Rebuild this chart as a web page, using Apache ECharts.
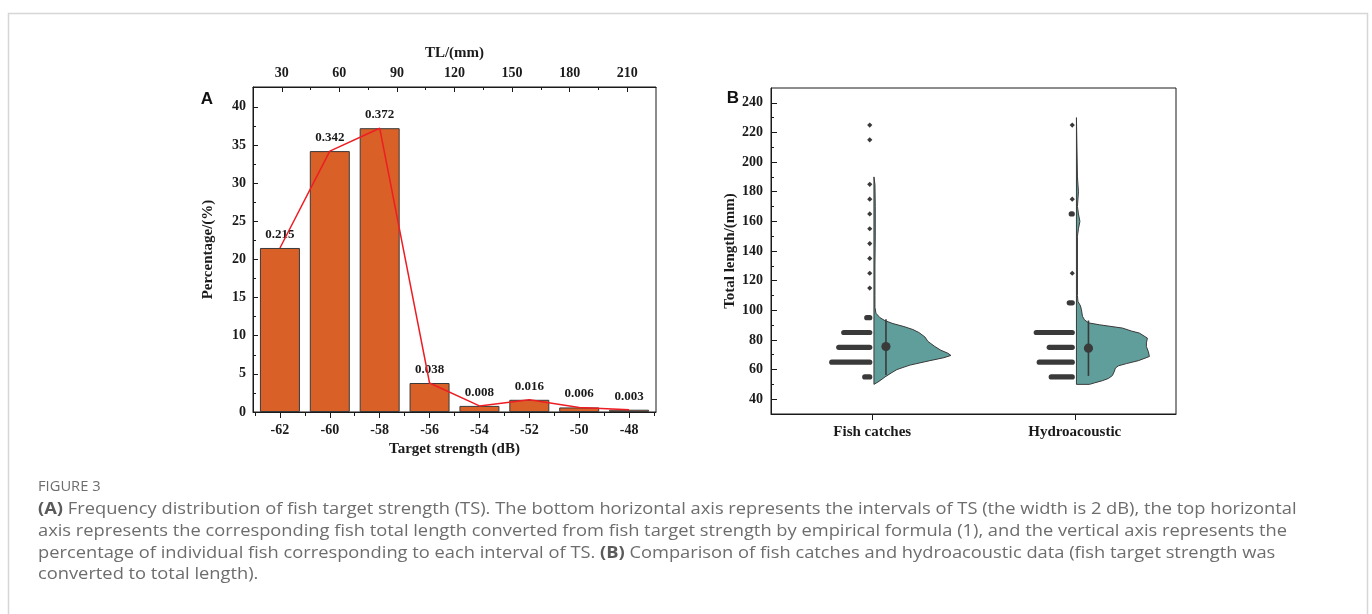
<!DOCTYPE html>
<html>
<head>
<meta charset="utf-8">
<script src="https://cdn.jsdelivr.net/npm/echarts@6/dist/echarts.min.js"></script>
<style>
html,body{margin:0;padding:0;background:#fff;}
#chart{width:1372px;height:614px;}
</style>
</head>
<body>
<div id="chart"></div>
<script>
// ---------- Panel A data ----------
const tsBins = [-62, -60, -58, -56, -54, -52, -50, -48];
const percentages = [21.5, 34.2, 37.2, 3.8, 0.8, 1.6, 0.6, 0.3];
const tsTicks = [-62, -60, -58, -56, -54, -52, -50, -48];
const tsMinorTicks = [-63, -61, -59, -57, -55, -53, -51, -49, -47];
const tlTicks = [30, 60, 90, 120, 150, 180, 210];
const tlMinorTicks = [45, 75, 105, 135, 165, 195];
const pctTicks = [0, 5, 10, 15, 20, 25, 30, 35, 40];
const pctMinorTicks = [2.5, 7.5, 12.5, 17.5, 22.5, 27.5, 32.5, 37.5];

// ---------- Panel B data ----------
const groupNames = ['Fish catches', 'Hydroacoustic'];
const groupPos = [1, 2];
const lenTicks = [40, 60, 80, 100, 120, 140, 160, 180, 200, 220, 240];
const lenMinorTicks = [50, 70, 90, 110, 130, 150, 170, 190, 210, 230];

// half-violin density profiles (relative density)
const violinYCatch = [50, 52, 55, 58, 60, 63, 66, 68, 69.5, 71, 73, 75.5, 77.5, 79, 82, 85, 87, 89, 91, 93, 95, 98, 102, 110, 130, 150, 170, 185, 190];
const violinDensCatch = [0, 0.065, 0.143, 0.234, 0.299, 0.468, 0.727, 0.909, 1, 0.961, 0.87, 0.792, 0.74, 0.701, 0.662, 0.584, 0.506, 0.39, 0.247, 0.143, 0.078, 0.026, 0.013, 0.013, 0.013, 0.017, 0.017, 0.013, 0];
const violinYHydro = [50, 51, 52.5, 54, 56, 59, 61, 62.5, 64, 66, 68.8, 72, 75.5, 78, 81.2, 84.6, 86, 88, 90.2, 91.5, 93.6, 96, 100.3, 103, 106, 110, 150, 155, 160, 165, 170, 180, 190, 230];
const violinDensHydro = [0.169, 0.234, 0.338, 0.416, 0.468, 0.494, 0.506, 0.545, 0.649, 0.805, 0.948, 0.935, 0.909, 0.909, 0.922, 0.818, 0.714, 0.597, 0.299, 0.156, 0.104, 0.078, 0.065, 0.052, 0.019, 0.013, 0.013, 0.026, 0.045, 0.026, 0.013, 0.026, 0.013, 0];

// stacked data points (length bin, number of points)
const dotBinsCatch = [55, 65, 75, 85, 95, 115, 125, 135, 145, 155, 165, 175, 185, 215, 225];
const dotCountsCatch = [6, 39, 32, 27, 4, 1, 1, 1, 1, 1, 1, 1, 1, 1, 1];
const dotBinsHydro = [55, 65, 75, 85, 105, 125, 165, 175, 225];
const dotCountsHydro = [22, 34, 24, 37, 4, 1, 2, 1, 1];

// mean and whisker (mean, low, high)
const meanLen = [75.5, 74.4];
const whiskerLow = [56.4, 55.7];
const whiskerHigh = [94, 93.1];

// ---------- build ----------
const SERIF = 'Liberation Serif, Times New Roman, serif';
const DARK = '#1a1a1a';
const CAP_FONT = '"Open Sans", Lato, sans-serif';
const CAP_SCALE = 1.143;
const lblStyle = {fontFamily: SERIF, fontWeight: 'bold', fontSize: 14, color: DARK};
const nameStyle = {fontFamily: SERIF, fontWeight: 'bold', fontSize: 15, color: DARK};
const axLine = {show: true, lineStyle: {color: DARK, width: 1}};

const violinY = [violinYCatch, violinYHydro];
const violinDens = [violinDensCatch, violinDensHydro];
const dotData = [];
dotBinsCatch.forEach((b, i) => dotData.push([0, b, dotCountsCatch[i]]));
dotBinsHydro.forEach((b, i) => dotData.push([1, b, dotCountsHydro[i]]));
const meanData = groupPos.map((p, i) => [i, meanLen[i], whiskerLow[i], whiskerHigh[i]]);

function basePx(api, g) {
  return api.coord([groupPos[g], 100])[0] + 1.7;
}

const VIOLIN_MAX = 0.38; // axis units at relative density 1

function capLine(y, text) {
  return {type: 'text', x: 38, y: y, scaleX: CAP_SCALE, scaleY: 1,
    style: {text: text, font: '16px ' + CAP_FONT, fill: '#6d6d6d', verticalAlign: 'middle',
      rich: {b: {fontWeight: 'bold', fontSize: 16, fontFamily: CAP_FONT, fill: '#5a5a5a'}}}};
}

const chart = echarts.init(document.getElementById('chart'), null, {renderer: 'canvas'});
const option = {
  animation: false,
  backgroundColor: '#fff',
  grid: [
    {left: 253, top: 87, width: 403, height: 325, show: true, borderColor: DARK, borderWidth: 1, backgroundColor: 'transparent'},
    {left: 771, top: 88, width: 405, height: 326, show: true, borderColor: DARK, borderWidth: 1, backgroundColor: 'transparent'}
  ],
  xAxis: [
    {type: 'value', gridIndex: 0, position: 'bottom', min: -63.08, max: -46.92,
     axisLine: axLine, splitLine: {show: false},
     axisTick: {show: true, customValues: tsTicks, length: 6, lineStyle: {color: DARK}},
     axisLabel: Object.assign({customValues: tsTicks, margin: 11}, lblStyle),
     name: 'Target strength (dB)', nameLocation: 'middle', nameGap: 29, nameTextStyle: nameStyle},
    {type: 'value', gridIndex: 0, position: 'bottom', min: -63.08, max: -46.92,
     axisLine: {show: false}, splitLine: {show: false}, axisLabel: {show: false},
     axisTick: {show: true, customValues: tsMinorTicks, length: 4, lineStyle: {color: DARK}}},
    {type: 'value', gridIndex: 0, position: 'top', min: 15, max: 225,
     axisLine: axLine, splitLine: {show: false},
     axisTick: {show: true, inside: true, customValues: tlTicks, length: 5, lineStyle: {color: DARK}},
     axisLabel: Object.assign({customValues: tlTicks, margin: 7}, lblStyle),
     name: 'TL/(mm)', nameLocation: 'middle', nameGap: 26, nameTextStyle: nameStyle},
    {type: 'value', gridIndex: 0, position: 'top', min: 15, max: 225,
     axisLine: {show: false}, splitLine: {show: false}, axisLabel: {show: false},
     axisTick: {show: true, inside: true, customValues: tlMinorTicks, length: 3, lineStyle: {color: DARK}}},
    {type: 'value', gridIndex: 1, position: 'bottom', min: 0.5, max: 2.5,
     axisLine: axLine, splitLine: {show: false},
     axisTick: {show: true, customValues: groupPos, length: 6, lineStyle: {color: DARK}},
     axisLabel: Object.assign({customValues: groupPos, margin: 11,
       formatter: v => groupNames[groupPos.indexOf(v)]}, lblStyle, {fontSize: 15})}
  ],
  yAxis: [
    {type: 'value', gridIndex: 0, position: 'left', min: 0, max: 42.6,
     axisLine: axLine, splitLine: {show: false},
     axisTick: {show: true, inside: true, customValues: pctTicks, length: 5, lineStyle: {color: DARK}},
     axisLabel: Object.assign({customValues: pctTicks, margin: 7}, lblStyle),
     name: 'Percentage/(%)', nameLocation: 'middle', nameGap: 37, nameRotate: 90, nameTextStyle: nameStyle},
    {type: 'value', gridIndex: 0, position: 'left', min: 0, max: 42.6,
     axisLine: {show: false}, splitLine: {show: false}, axisLabel: {show: false},
     axisTick: {show: true, inside: true, customValues: pctMinorTicks, length: 3, lineStyle: {color: DARK}}},
    {type: 'value', gridIndex: 1, position: 'left', min: 30, max: 250,
     axisLine: axLine, splitLine: {show: false},
     axisTick: {show: true, inside: true, customValues: lenTicks, length: 6, lineStyle: {color: DARK}},
     axisLabel: Object.assign({customValues: lenTicks, margin: 8}, lblStyle),
     name: 'Total length/(mm)', nameLocation: 'middle', nameGap: 32, nameRotate: 90, nameTextStyle: nameStyle},
    {type: 'value', gridIndex: 1, position: 'left', min: 30, max: 250,
     axisLine: {show: false}, splitLine: {show: false}, axisLabel: {show: false},
     axisTick: {show: true, inside: true, customValues: lenMinorTicks, length: 3, lineStyle: {color: DARK}}}
  ],
  series: [
    {type: 'bar', xAxisIndex: 0, yAxisIndex: 0, barWidth: 40,
     data: tsBins.map((b, i) => [b, percentages[i]]),
     itemStyle: {color: '#D96027', borderColor: '#3a3a3a', borderWidth: 1},
     label: {show: true, position: 'top', distance: 7,
       formatter: p => (p.value[1] / 100).toFixed(3),
       fontFamily: SERIF, fontWeight: 'bold', fontSize: 13, color: DARK},
     z: 2},
    {type: 'line', xAxisIndex: 0, yAxisIndex: 0, symbol: 'none',
     data: tsBins.map((b, i) => [b, percentages[i]]),
     lineStyle: {color: '#EE1D23', width: 1.5}, z: 5},
    {type: 'custom', xAxisIndex: 4, yAxisIndex: 2, z: 3,
     data: groupPos.map((p, i) => [i]),
     renderItem: function (params, api) {
       const g = params.dataIndex;
       const ys = violinY[g], ds = violinDens[g];
       const base = basePx(api, g);
       const unit = api.size([1, 0])[0];
       const pts = [[base, api.coord([groupPos[g], ys[0]])[1]]];
       for (let i = 0; i < ys.length; i++) {
         pts.push([base + ds[i] * VIOLIN_MAX * unit, api.coord([groupPos[g], ys[i]])[1]]);
       }
       pts.push([base, api.coord([groupPos[g], ys[ys.length - 1]])[1]]);
       return {type: 'polygon', shape: {points: pts, smooth: 0},
         style: {fill: '#5F9E9B', stroke: '#3a3a3a', lineWidth: 1}};
     }},
    {type: 'custom', xAxisIndex: 4, yAxisIndex: 2, z: 4,
     data: dotData,
     renderItem: function (params, api) {
       const g = api.value(0), len = api.value(1), n = api.value(2);
       const base = basePx(api, g);
       const y = api.coord([groupPos[g], len])[1];
       const right = base - 4.2;
       if (n <= 1) {
         return {type: 'polygon', shape: {points: [[right, y - 2.6], [right + 2.6, y], [right, y + 2.6], [right - 2.6, y]]}, style: {fill: '#3a3a3a'}};
       }
       const left = right - (n - 1) * 1.0;
       return {type: 'line', shape: {x1: left, y1: y, x2: right, y2: y},
         style: {stroke: '#3a3a3a', lineWidth: 5.2, lineCap: 'round'}};
     }},
    {type: 'custom', xAxisIndex: 4, yAxisIndex: 2, z: 6,
     data: meanData,
     renderItem: function (params, api) {
       const g = api.value(0);
       const x = basePx(api, g) + 12;
       const yM = api.coord([groupPos[g], api.value(1)])[1];
       const yL = api.coord([groupPos[g], api.value(2)])[1];
       const yH = api.coord([groupPos[g], api.value(3)])[1];
       return {type: 'group', children: [
         {type: 'line', shape: {x1: x, y1: yL, x2: x, y2: yH}, style: {stroke: '#3a3a3a', lineWidth: 1.6}},
         {type: 'circle', shape: {cx: x, cy: yM, r: 4.6}, style: {fill: '#3a3a3a'}}
       ]};
     }}
  ],
  graphic: [
    {type: 'rect', silent: true, shape: {x: 8.5, y: 13.5, width: 1359, height: 640},
     style: {fill: 'none', stroke: '#d6d6d6', lineWidth: 1.5}},
    {type: 'text', x: 207, y: 99, style: {text: 'A', font: 'bold 17px Liberation Sans, Arial, sans-serif', fill: '#111', align: 'center', verticalAlign: 'middle'}},
    {type: 'text', x: 733, y: 98, style: {text: 'B', font: 'bold 17px Liberation Sans, Arial, sans-serif', fill: '#111', align: 'center', verticalAlign: 'middle'}},
    {type: 'text', x: 38, y: 487, scaleX: 1.05, style: {text: 'FIGURE 3', font: '14px ' + CAP_FONT, fill: '#6d6d6d', verticalAlign: 'middle'}},
    capLine(509.5, '{b|(A)} Frequency distribution of fish target strength (TS). The bottom horizontal axis represents the intervals of TS (the width is 2 dB), the top horizontal'),
    capLine(531.5, 'axis represents the corresponding fish total length converted from fish target strength by empirical formula (1), and the vertical axis represents the'),
    capLine(553, 'percentage of individual fish corresponding to each interval of TS. {b|(B)} Comparison of fish catches and hydroacoustic data (fish target strength was'),
    capLine(574.5, 'converted to total length).')
  ]
};
chart.setOption(option);
</script>
</body>
</html>
